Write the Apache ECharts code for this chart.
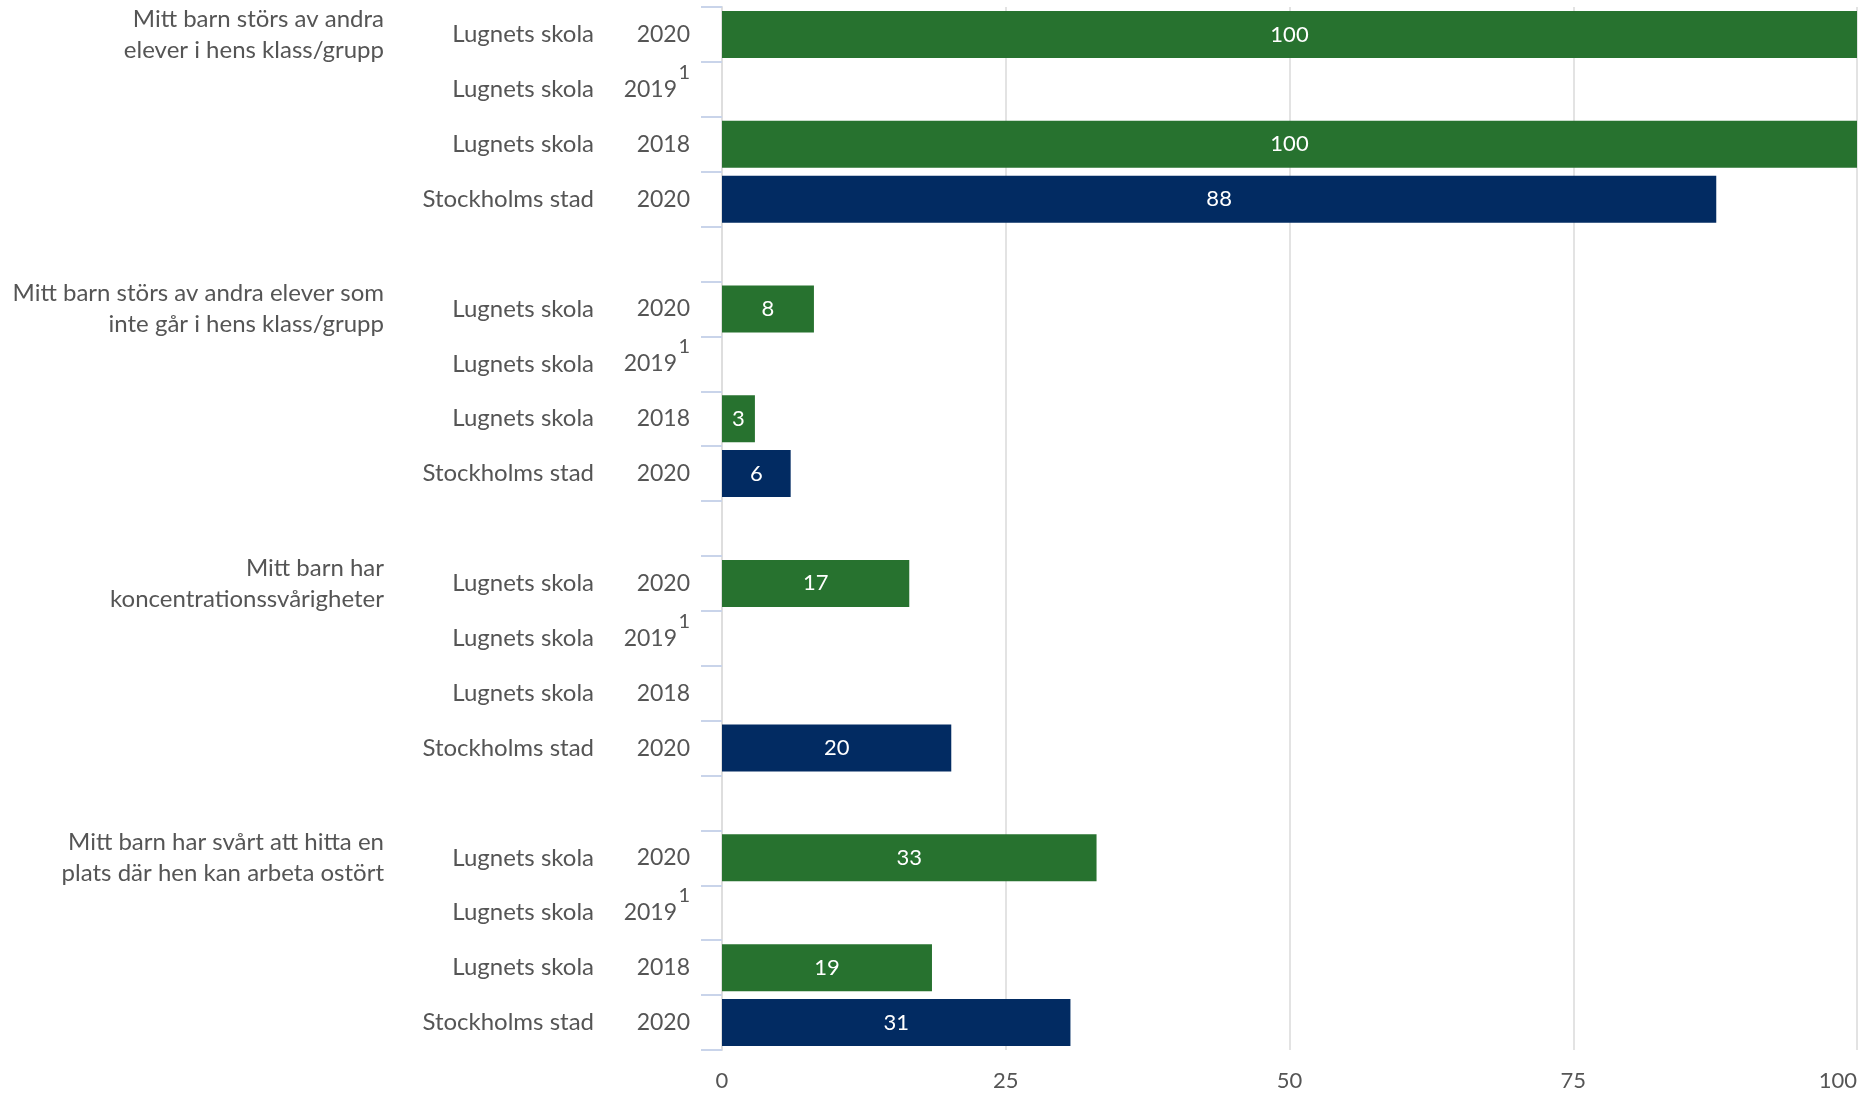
<!DOCTYPE html>
<html>
<head>
<meta charset="utf-8">
<script src="https://cdn.jsdelivr.net/npm/echarts@6/dist/echarts.min.js"></script>
<style>
  html, body { margin: 0; padding: 0; background: #fff; }
  #chart { width: 1875px; height: 1094px; }
</style>
</head>
<body>
<div id="chart"></div>
<script>
// frågor (en grupp per fråga)
const groups = [
  'Mitt barn störs av andra\nelever i hens klass/grupp',
  'Mitt barn störs av andra elever som\ninte går i hens klass/grupp',
  'Mitt barn har\nkoncentrationssvårigheter',
  'Mitt barn har svårt att hitta en\nplats där hen kan arbeta ostört',
];
// rader inom varje grupp
const units = ['Lugnets skola', 'Lugnets skola', 'Lugnets skola', 'Stockholms stad'];
const years = ['2020', '2019', '2018', '2020'];
const footnoteYear = '2019';

// värden per rad, en post per grupp (avlästa, etiketten avrundas)
const lugnets2020 = [100, 8.1, 16.5, 33];
const lugnets2019 = [null, null, null, null];
const lugnets2018 = [100, 2.9, null, 18.5];
const stockholm2020 = [87.6, 6.05, 20.2, 30.7];

const xTicks = [0, 25, 50, 75, 100];

const GREEN = '#27722f';
const NAVY = '#022b62';
const TEXT = '#555555';
const FONT = 'Lato, "Noto Sans", sans-serif';

const rowSeries = [lugnets2020, lugnets2019, lugnets2018, stockholm2020];

// bygg kategorier, med en tom rad mellan grupperna
const categories = [];
const rowUnit = [];
const rowYear = [];
const rowGroup = [];
const barData = [];
groups.forEach((g, gi) => {
  units.forEach((u, ri) => {
    categories.push(gi + '-' + ri);
    rowUnit.push(u);
    rowYear.push(years[ri]);
    rowGroup.push(ri === 0 ? g : '');
    barData.push({
      value: rowSeries[ri][gi],
      itemStyle: { color: u === 'Stockholms stad' ? NAVY : GREEN },
    });
  });
  if (gi < groups.length - 1) {
    categories.push('gap-' + gi);
    rowUnit.push('');
    rowYear.push('');
    rowGroup.push('');
    barData.push({ value: null });
  }
});

const chart = echarts.init(document.getElementById('chart'));

chart.setOption({
  animation: false,
  textStyle: { fontFamily: FONT },
  grid: { left: 722, right: 18, top: 7, bottom: 44 },
  xAxis: {
    type: 'value',
    min: xTicks[0],
    max: xTicks[xTicks.length - 1],
    interval: 25,
    axisLine: { show: false },
    axisTick: { show: false },
    splitLine: { show: true, lineStyle: { color: '#e3e3e3', width: 2 } },
    axisLabel: {
      color: TEXT,
      fontSize: 22,
      fontFamily: FONT,
      margin: 20,
      alignMaxLabel: 'right',
    },
  },
  yAxis: [
    {
      type: 'category',
      data: categories,
      inverse: true,
      axisLine: { show: true, lineStyle: { color: '#dedede', width: 2 } },
      axisTick: {
        show: true,
        interval: 0,
        length: 21,
        lineStyle: { color: '#c9d4ea', width: 2 },
      },
      axisLabel: {
        interval: 0,
        margin: 32,
        formatter(value, idx) {
          const u = rowUnit[idx];
          if (!u) return '';
          const y = rowYear[idx];
          if (y === footnoteYear) {
            return '{u|' + u + '}{y2|' + y + '}{s|1}';
          }
          return '{u|' + u + '}{y|' + y + '}';
        },
        rich: {
          u: { color: TEXT, fontSize: 24, fontFamily: FONT, lineHeight: 54, verticalAlign: 'middle' },
          y: { color: TEXT, fontSize: 23, fontFamily: FONT, lineHeight: 54, width: 96, align: 'right', verticalAlign: 'middle' },
          y2: { color: TEXT, fontSize: 23, fontFamily: FONT, lineHeight: 54, width: 83, align: 'right', verticalAlign: 'middle' },
          s: { color: TEXT, fontSize: 20, fontFamily: FONT, lineHeight: 20, width: 13, align: 'right', verticalAlign: 'top' },
        },
      },
    },
    {
      type: 'category',
      data: categories,
      inverse: true,
      position: 'left',
      offset: 338,
      axisLine: { show: false },
      axisTick: { show: false },
      axisLabel: {
        interval: 0,
        margin: 0,
        color: TEXT,
        fontSize: 24,
        fontFamily: FONT,
        lineHeight: 31,
        align: 'right',
        formatter(value, idx) {
          return rowGroup[idx];
        },
      },
    },
  ],
  series: [
    {
      type: 'bar',
      yAxisIndex: 0,
      data: barData,
      barWidth: 47,
      label: {
        show: true,
        position: 'inside',
        color: '#ffffff',
        fontSize: 22,
        fontFamily: FONT,
        formatter(p) {
          return p.value == null ? '' : String(Math.round(p.value));
        },
      },
    },
  ],
});
</script>
</body>
</html>
